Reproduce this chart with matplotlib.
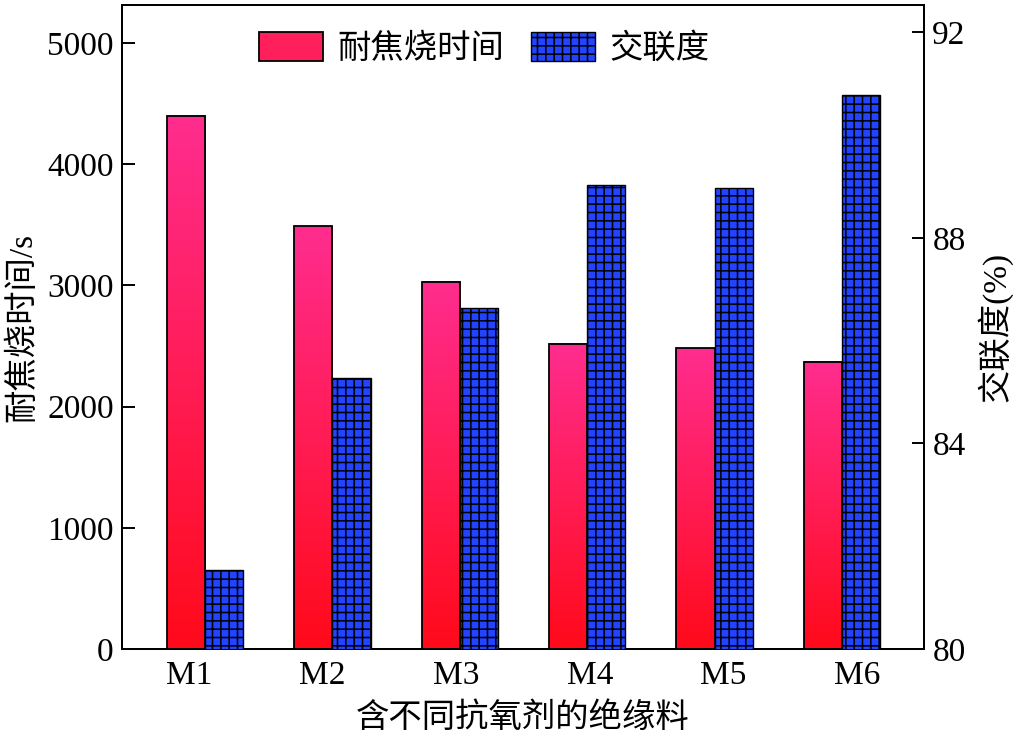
import numpy as np
import matplotlib
matplotlib.use("Agg")
import matplotlib.pyplot as plt
from matplotlib.patches import Patch

plt.rcParams['font.family'] = ['Liberation Serif', 'Noto Sans CJK SC']
plt.rcParams['hatch.linewidth'] = 1.1
plt.rcParams['axes.unicode_minus'] = False

# data
samples = ['M1', 'M2', 'M3', 'M4', 'M5', 'M6']
scorch_time = [4400, 3490, 3030, 2520, 2480, 2370]      # s, left axis
crosslink = [81.54, 85.27, 86.63, 89.03, 88.97, 90.78]   # %, right axis

x = np.arange(len(samples))
width = 0.30
# tick marks in the original are not centred on the groups
tick_pos = np.linspace(-0.126, 5.118, len(samples))

fig = plt.figure(figsize=(10.15, 7.32), dpi=100)
ax = fig.add_axes([0.1202, 0.1134, 0.7901, 0.8798])
ax2 = ax.twinx()

red_bars = ax.bar(x - width / 2, scorch_time, width, color='none',
                  edgecolor='black', linewidth=1.3, zorder=3)
blue_bars = ax2.bar(x + width / 2, crosslink, width, color='#2244ff',
                    edgecolor='black', linewidth=1.0, hatch='++', zorder=3)

# vertical pink -> red gradient inside each red bar
grad = np.linspace(0, 1, 256).reshape(-1, 1)
cmap = matplotlib.colors.LinearSegmentedColormap.from_list('pr', ['#ff0a1a', '#ff2d8f'])
for b in red_bars:
    x0, w, h = b.get_x(), b.get_width(), b.get_height()
    ax.imshow(grad, extent=[x0, x0 + w, 0, h], origin='lower', cmap=cmap,
              aspect='auto', zorder=2)

ax.set_xlim(-0.651, 5.644)
ax.set_ylim(0, 5314)
ax2.set_ylim(80, 92.53)
ax.set_yticks([0, 1000, 2000, 3000, 4000, 5000])
ax2.set_yticks([80, 84, 88, 92])
ax.set_xticks(tick_pos)
ax.set_xticklabels(samples)

for a in (ax, ax2):
    for s in a.spines.values():
        s.set_linewidth(1.4)
ax.tick_params(axis='both', direction='in', labelsize=24, width=1.4, length=9, pad=6)
ax.tick_params(axis='x', length=12, pad=8)
ax2.tick_params(axis='y', direction='in', labelsize=24, width=1.4, length=9, pad=6)

ax.set_xlabel('含不同抗氧剂的绝缘料', fontsize=24, labelpad=8)
ax.set_ylabel('耐焦烧时间/s', fontsize=24, labelpad=6)
ax2.set_ylabel('交联度(%)', fontsize=24, labelpad=8)

handles = [Patch(facecolor='#ff1f5a', edgecolor='black', linewidth=1.3),
           Patch(facecolor='#2244ff', edgecolor='black', hatch='++')]
ax2.legend(handles, ['耐焦烧时间', '交联度'], loc='upper center', ncol=2,
           frameon=False, fontsize=24, handlelength=1.9, handleheight=1.0,
           handletextpad=0.45, columnspacing=0.8, bbox_to_anchor=(0.452, 1.0),
           borderaxespad=0.4)

fig.savefig('out.png', dpi=100)
